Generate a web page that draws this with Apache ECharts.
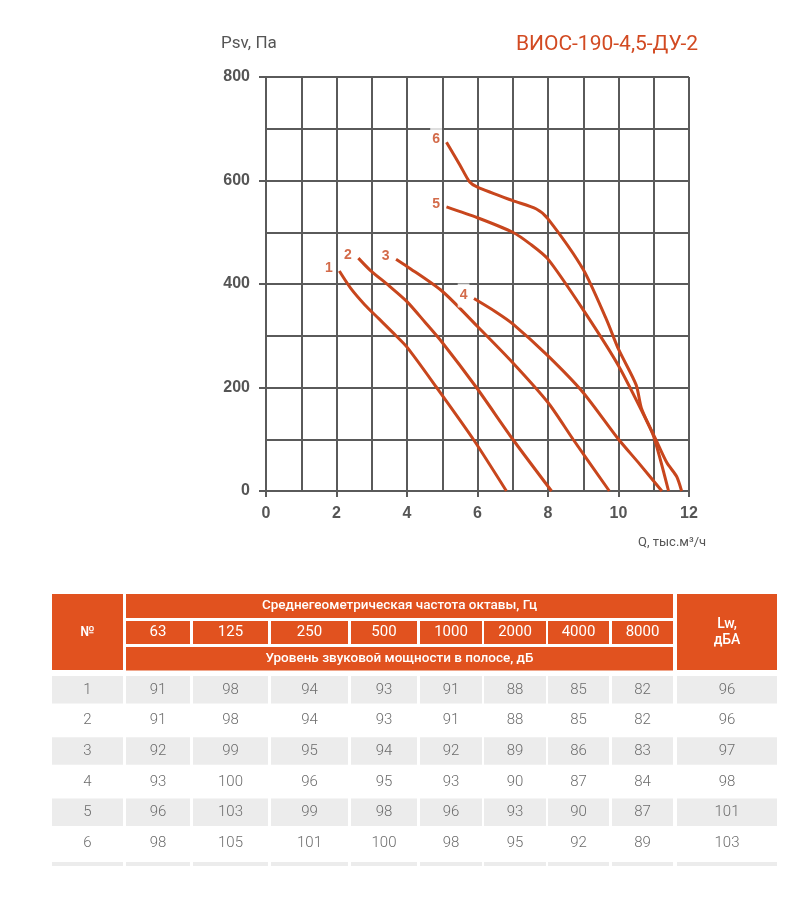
<!DOCTYPE html>
<html><head><meta charset="utf-8">
<script src="https://cdn.jsdelivr.net/npm/echarts@6/dist/echarts.min.js"></script>
<style>html,body{margin:0;padding:0;background:#fff}#c{width:810px;height:916px}</style>
</head><body><div id="c"></div>
<script>
// ---------- chart data ----------
const chartTitle = 'ВИОС-190-4,5-ДУ-2';
const yName = 'Psv, Па';
const xName = 'Q, тыс.м³/ч';
const curveNames = ['1', '2', '3', '4', '5', '6'];
const curve1 = [[2.08,425],[2.4,392],[2.8,360],[3.2,333],[3.6,306],[4.0,278],[4.84,200],[5.88,100],[6.82,0]];
const curve2 = [[2.62,450],[2.95,427],[3.5,396],[4.0,366],[4.5,327],[5.0,287],[5.97,200],[7.0,100],[8.1,0]];
const curve3 = [[3.69,448],[4.0,434],[5.0,386],[6.0,318],[7.0,248],[8.0,171],[8.71,100],[9.74,0]];
const curve4 = [[5.9,372],[6.5,347],[7.0,323],[8.0,261],[9.0,190],[10.0,100],[10.6,52],[11.23,0]];
const curve5 = [[5.12,549],[6.0,528],[7.0,500],[7.5,477],[8.0,448],[9.0,350],[10.0,242],[11.0,108],[11.37,55],[11.65,28],[11.79,0]];
const curve6 = [[5.12,674],[5.5,630],[5.78,597],[6.0,587],[7.0,561],[7.67,545],[8.0,526],[9.0,428],[9.66,331],[10.0,274],[10.5,205],[10.65,160],[11.0,105],[11.42,0]];
const curves = [curve1, curve2, curve3, curve4, curve5, curve6];

// ---------- table data ----------
const headerNo = '№';
const headerTop = 'Среднегеометрическая частота октавы, Гц';
const headerBottom = 'Уровень звуковой мощности в полосе, дБ';
const headerLw = 'Lw,\nдБА';
const freqLabels = ['63', '125', '250', '500', '1000', '2000', '4000', '8000'];
const rowNames = ['1', '2', '3', '4', '5', '6'];
const levels1 = [91, 98, 94, 93, 91, 88, 85, 82];
const levels2 = [91, 98, 94, 93, 91, 88, 85, 82];
const levels3 = [92, 99, 95, 94, 92, 89, 86, 83];
const levels4 = [93, 100, 96, 95, 93, 90, 87, 84];
const levels5 = [96, 103, 99, 98, 96, 93, 90, 87];
const levels6 = [98, 105, 101, 100, 98, 95, 92, 89];
const levelRows = [levels1, levels2, levels3, levels4, levels5, levels6];
const lwValues = [96, 96, 97, 98, 101, 103];

// ---------- styles / layout ----------
const CURVE = '#c8461d';
const TITLE = '#d24a22';
const GRIDC = '#5a5a5a';
const ORANGE = '#e1521f';
const GRAY = '#ececec';
const colL = [52, 126, 193, 271, 351, 420, 484, 548, 612, 677];
const colR = [123, 190, 268, 348, 417, 482, 546, 609, 673, 777];

const g = [];
function rect(x, y, w, h, fill) { g.push({type:'rect', shape:{x, y, width:w, height:h}, style:{fill}, silent:true}); }
function txt(s, x, y, o) {
  g.push({type:'text', silent:true, style:Object.assign({text:s, x, y, align:'center', verticalAlign:'middle',
    fill:'#fff', fontFamily:'Roboto', fontSize:14, fontWeight:500}, o || {})});
}
// header
rect(colL[0], 594, colR[0]-colL[0], 76, ORANGE);
rect(colL[9], 594, colR[9]-colL[9], 76, ORANGE);
rect(colL[1], 594, colR[8]-colL[1], 24, ORANGE);
rect(colL[1], 647, colR[8]-colL[1], 23.5, ORANGE);
for (let i = 1; i <= 8; i++) rect(colL[i], 621, colR[i]-colL[i], 23, ORANGE);
txt(headerNo, (colL[0]+colR[0])/2, 632, {fontSize:14});
txt(headerTop, (colL[1]+colR[8])/2, 605.5, {fontSize:13.5});
txt(headerBottom, (colL[1]+colR[8])/2, 659, {fontSize:13.5});
freqLabels.forEach((f, i) => txt(f, (colL[i+1]+colR[i+1])/2, 632.5, {fontSize:15, fontWeight:400}));
txt(headerLw, (colL[9]+colR[9])/2, 632, {fontSize:14, lineHeight:16});
// body
const pitch = 30.6;
rowNames.forEach((rn, r) => {
  const top = 676 + r*pitch;
  if (r % 2 === 0) for (let c = 0; c < 10; c++) rect(colL[c], top, colR[c]-colL[c], 27.5, GRAY);
  const cy = top + 14;
  const cells = [rn].concat(levelRows[r].map(String), [String(lwValues[r])]);
  cells.forEach((s, c) => txt(s, (colL[c]+colR[c])/2, cy, {fill:'#6c6c6c', fontSize:15, fontWeight:300}));
});
for (let c = 0; c < 10; c++) rect(colL[c], 862, colR[c]-colL[c], 4, GRAY);

const lineStyle = {color: GRIDC, width: 2};
const series = curves.map((cv, k) => ({
  type: 'line', name: curveNames[k], smooth: 0.25, symbol: 'none', showSymbol: false,
  lineStyle: {color: CURVE, width: 3}, z: 3,
  data: cv
}));
series.push({
  type: 'scatter', name: 'labels', z: 5, symbol: 'circle', symbolSize: 1,
  itemStyle: {color: 'rgba(0,0,0,0)'},
  data: curves.map(cv => cv[0]),
  label: {show: true, formatter: p => curveNames[p.dataIndex], position: 'left', distance: 4,
    offset: [0, -3], color: CURVE, fontFamily: 'Liberation Sans', fontWeight: 'bold', fontSize: 14,
    backgroundColor: '#fff', padding: [5, 2]}
});

const chart = echarts.init(document.getElementById('c'), null, {renderer: 'canvas'});
chart.setOption({
  backgroundColor: '#fff',
  animation: false,
  title: [
    {text: chartTitle, right: 112, top: 34, padding: 0, textStyle: {color: TITLE, fontFamily: 'Roboto', fontWeight: 'normal', fontSize: 21}},
    {text: yName, left: 221, top: 35, padding: 0, textStyle: {color: '#555', fontFamily: 'Roboto', fontWeight: 'normal', fontSize: 17}},
    {text: xName, left: 638, top: 536, padding: 0, textStyle: {color: '#555', fontFamily: 'Roboto', fontWeight: 'normal', fontSize: 13}}
  ],
  grid: {left: 266, top: 77, width: 423, height: 414, containLabel: false},
  xAxis: {
    type: 'value', min: 0, max: 12, interval: 2,
    axisLine: {show: true, onZero: false, lineStyle},
    axisTick: {show: true, length: 6, lineStyle},
    axisLabel: {color: '#555', fontFamily: 'Liberation Sans', fontWeight: 'bold', fontSize: 16, margin: 15},
    splitLine: {show: true, lineStyle},
    minorTick: {show: false, splitNumber: 2},
    minorSplitLine: {show: true, lineStyle}
  },
  yAxis: {
    type: 'value', min: 0, max: 800, interval: 200,
    axisLine: {show: true, onZero: false, lineStyle},
    axisTick: {show: true, length: 7, lineStyle},
    axisLabel: {color: '#555', fontFamily: 'Liberation Sans', fontWeight: 'bold', fontSize: 16, margin: 16},
    splitLine: {show: true, lineStyle},
    minorTick: {show: false, splitNumber: 2},
    minorSplitLine: {show: true, lineStyle}
  },
  series,
  graphic: g
});
</script></body></html>
